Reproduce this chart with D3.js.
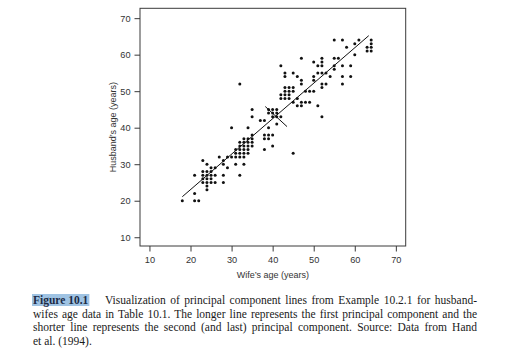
<!DOCTYPE html>
<html>
<head>
<meta charset="utf-8">
<script src="https://cdn.jsdelivr.net/npm/d3@7/dist/d3.min.js"></script>
<style>
  html, body { margin: 0; padding: 0; background: #fff; }
  svg { display: block; }
</style>
</head>
<body>
<svg id="chart" width="512" height="350"></svg>
<script>
// Husband-wife ages (years), one entry per couple
const wifeAge = [
  18, 21, 22, 21, 21,
  23, 24,
  23, 24, 25,
  23, 24, 25, 26,
  23, 24, 25,
  23, 24, 25, 26,
  24, 24,
  25, 26,
  27, 28, 28, 28, 28, 29,
  29, 30, 31, 32, 33,
  31, 33, 32,
  30, 34, 32,
  31, 32, 33, 34,
  31, 32, 33, 34,
  32, 33, 34,
  32, 33, 34,
  33, 34,
  35, 35, 35, 35,
  35, 35, 37, 38,
  39, 40, 41, 39, 40, 41, 40, 41, 42,
  39, 41,
  38, 39, 40, 38, 39,
  38, 40, 45,
  42, 43, 44, 46,
  42, 43, 44,
  43, 44, 45,
  43, 44, 45,
  47, 48, 49, 45,
  46, 47,
  48, 49, 50,
  51, 52,
  42, 43, 43, 45, 46, 47, 47,
  50, 50, 51, 53, 54, 52,
  52, 53, 52,
  47, 50, 52, 52, 51, 52,
  55, 56, 55, 55,
  57, 59, 57, 59, 57,
  58, 60, 60,
  55, 57, 61, 64, 64,
  63, 64, 63, 64
];
const husbandAge = [
  20, 20, 20, 22, 27,
  31, 30,
  28, 28, 28,
  27, 27, 27, 27,
  26, 26, 26,
  25, 25, 25, 25,
  24, 23,
  29, 29,
  32, 31, 30, 27, 25, 29,
  32, 32, 32, 32, 32,
  30, 30, 27,
  40, 40, 52,
  33, 33, 33, 33,
  34, 34, 34, 34,
  35, 35, 35,
  36, 36, 36,
  37, 37,
  35, 36, 37, 38,
  43, 45, 42, 42,
  45, 45, 45, 44, 44, 44, 43, 43, 43,
  40, 41,
  38, 38, 38, 37, 37,
  34, 35, 33,
  48, 48, 48, 48,
  49, 49, 49,
  50, 50, 50,
  51, 51, 51,
  47, 47, 47, 47,
  46, 46,
  50, 50, 50,
  46, 43,
  57, 55, 54, 55, 54, 53, 52,
  54, 53, 55, 55, 54, 55,
  52, 52, 51,
  59, 58, 59, 58, 57, 57,
  59, 59, 57, 56,
  57, 57, 54, 54, 52,
  62, 63, 60,
  64, 64, 64, 64, 63,
  62, 62, 61, 61
];

// Principal component lines: end points as [wife, husband]
const pc1Line = [[18.0, 21.1], [63.4, 65.2]];
const pc2Line = [[38.2, 45.8], [43.5, 40.3]];

// Axis ticks
const xTicks = [10, 20, 30, 40, 50, 60, 70];
const yTicks = [10, 20, 30, 40, 50, 60, 70];

// Caption text
const captionLabel = "Figure 10.1";
const captionLines = [
  "Visualization of principal component lines from Example 10.2.1 for husband-",
  "wifes age data in Table 10.1. The longer line represents the first principal component and the",
  "shorter line represents the second (and last) principal component. Source: Data from Hand",
  "et al. (1994)."
];

const svg = d3.select("#chart");
const box = { left: 140, right: 405.7, top: 8.3, bottom: 246 };

const x = d3.scaleLinear().domain([7.7, 72.4]).range([box.left, box.right]);
const y = d3.scaleLinear().domain([7.6, 72.7]).range([box.bottom, box.top]);

const axisColor = "#3a3a3a";
const sansFont = "'Liberation Sans', Arial, sans-serif";

// Frame around the plotting region
svg.append("rect")
  .attr("x", box.left).attr("y", box.top)
  .attr("width", box.right - box.left).attr("height", box.bottom - box.top)
  .attr("fill", "none").attr("stroke", axisColor).attr("stroke-width", 1);

// Axes
const gx = svg.append("g")
  .attr("transform", `translate(0,${box.bottom})`)
  .call(d3.axisBottom(x).tickValues(xTicks).tickSize(5.5).tickPadding(4.5).tickFormat(d3.format("d")));
const gy = svg.append("g")
  .attr("transform", `translate(${box.left},0)`)
  .call(d3.axisLeft(y).tickValues(yTicks).tickSize(5.5).tickPadding(4).tickFormat(d3.format("d")));

[gx, gy].forEach(g => {
  g.select(".domain").remove();
  g.selectAll(".tick line").attr("stroke", axisColor);
  g.selectAll(".tick text")
    .attr("fill", "#333")
    .style("font-family", sansFont)
    .style("font-size", "9.2px");
});

// Axis titles
svg.append("text")
  .attr("x", (box.left + box.right) / 2)
  .attr("y", 277.5)
  .attr("text-anchor", "middle")
  .attr("fill", "#333")
  .style("font-family", sansFont)
  .style("font-size", "9px")
  .text("Wife\u2019s age (years)");

svg.append("text")
  .attr("transform", `translate(115.5,${(box.top + box.bottom) / 2}) rotate(-90)`)
  .attr("text-anchor", "middle")
  .attr("fill", "#333")
  .style("font-family", sansFont)
  .style("font-size", "9px")
  .text("Husband\u2019s age (years)");

// Scatter points
const points = wifeAge.map((w, i) => ({ wife: w, husband: husbandAge[i] }));
svg.append("g")
  .selectAll("circle")
  .data(points)
  .join("circle")
  .attr("cx", d => x(d.wife))
  .attr("cy", d => y(d.husband))
  .attr("r", 1.5)
  .attr("fill", "#111");

// Principal component lines
const line = d3.line().x(d => x(d[0])).y(d => y(d[1]));
[pc1Line, pc2Line].forEach(seg => {
  svg.append("path")
    .attr("d", line(seg))
    .attr("fill", "none")
    .attr("stroke", "#111")
    .attr("stroke-width", 1);
});

// Caption, justified between the two margins
const capLeft = 33, capRight = 477;
const capBase = [303.8, 317.5, 331.2, 344.9];
const serif = "'Liberation Serif', 'Times New Roman', serif";
const capSize = "11.5px";

const capG = svg.append("g").attr("class", "caption");
const labelBg = capG.append("rect").attr("fill", "#9fc3e3");
const label = capG.append("text")
  .attr("x", capLeft).attr("y", capBase[0])
  .attr("fill", "#1d2b45")
  .style("font-family", serif)
  .style("font-size", capSize)
  .style("font-weight", "bold")
  .text(captionLabel);
const labelW = label.node().getComputedTextLength();
labelBg
  .attr("x", capLeft - 1).attr("y", capBase[0] - 9.8)
  .attr("width", labelW + 2).attr("height", 12);

captionLines.forEach((str, i) => {
  const startX = i === 0 ? 105 : capLeft;
  const t = capG.append("text")
    .attr("x", startX).attr("y", capBase[i])
    .attr("fill", "#1a1a1a")
    .style("font-family", serif)
    .style("font-size", capSize)
    .text(str);
  if (i < captionLines.length - 1) {
    const natural = t.node().getComputedTextLength();
    const spaces = (str.match(/ /g) || []).length;
    if (spaces > 0) {
      t.style("word-spacing", ((capRight - startX - natural) / spaces) + "px");
    }
  }
});
</script>
</body>
</html>
